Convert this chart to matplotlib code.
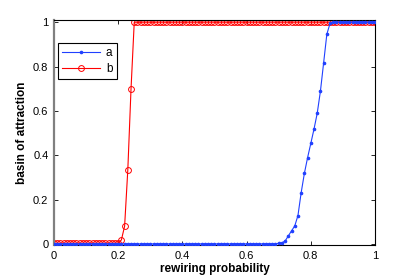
import numpy as np
import matplotlib
matplotlib.use("Agg")
import matplotlib.pyplot as plt

plt.rcParams["font.family"] = ["Liberation Sans", "DejaVu Sans"]

# rewiring probability grid (0 .. 1, step 0.01)
p = np.round(np.arange(0, 101) / 100, 2)

# series a: flat near 0 until ~0.70, then climbs to 1 at 0.86
a_rise_p = [0.70, 0.71, 0.72, 0.73, 0.74, 0.75, 0.76, 0.77, 0.78, 0.79,
            0.80, 0.81, 0.82, 0.83, 0.84, 0.85, 0.86]
a_rise_v = [0.003, 0.005, 0.013, 0.036, 0.059, 0.081, 0.128, 0.231, 0.318, 0.389,
            0.453, 0.518, 0.589, 0.689, 0.817, 0.946, 0.995]

# series b: flat near 0 until 0.20, then jumps to 1 at 0.25
b_rise_p = [0.20, 0.21, 0.22, 0.23, 0.24, 0.25]
b_rise_v = [0.004, 0.018, 0.08, 0.335, 0.70, 1.0]

a = np.where(p < 0.70, 0.0, 1.0)
for x, v in zip(a_rise_p, a_rise_v):
    a[np.isclose(p, x)] = v

b = np.where(p < 0.20, 0.003, 1.0)
for x, v in zip(b_rise_p, b_rise_v):
    b[np.isclose(p, x)] = v

ticks = [0, 0.2, 0.4, 0.6, 0.8, 1]
tick_labels = ["0", "0.2", "0.4", "0.6", "0.8", "1"]

fig = plt.figure(figsize=(4.15, 2.77), dpi=100)
ax = fig.add_axes([0.1301, 0.1155, 0.7735, 0.8123])

ax.plot(p, b, "-o", color="red", lw=0.8, ms=4.2, mfc="none", mew=0.7,
        label="b", zorder=2)
ax.plot(p, a, "-", color="#2040ff", lw=0.8, marker=".", ms=3.2,
        label="a", zorder=3)

ax.set_xlim(0, 1)
ax.set_ylim(-0.005, 1.01)
ax.set_xticks(ticks)
ax.set_xticklabels(tick_labels)
ax.set_yticks(ticks)
ax.set_yticklabels(tick_labels)
ax.tick_params(direction="in", top=True, right=True, length=3, width=0.6,
               labelsize=8, pad=4)

for s in ["top", "right", "bottom"]:
    ax.spines[s].set_linewidth(0.8)
ax.spines["left"].set_color("#808080")
ax.spines["left"].set_linewidth(1.6)

ax.set_xlabel("rewiring probability", fontsize=8.5, fontweight="bold", labelpad=2)
ax.set_ylabel("basin of attraction", fontsize=8.5, fontweight="bold", labelpad=4)

handles, labels = ax.get_legend_handles_labels()
leg = ax.legend(handles[::-1], labels[::-1], loc="upper left",
                bbox_to_anchor=(0.011, 0.9), borderaxespad=0,
                fontsize=8.5, handlelength=3.2, fancybox=False,
                edgecolor="black", framealpha=1, borderpad=0.4,
                labelspacing=0.3, handletextpad=0.5)
leg.get_frame().set_linewidth(0.8)

fig.savefig("out.png", dpi=100)
plt.close(fig)
